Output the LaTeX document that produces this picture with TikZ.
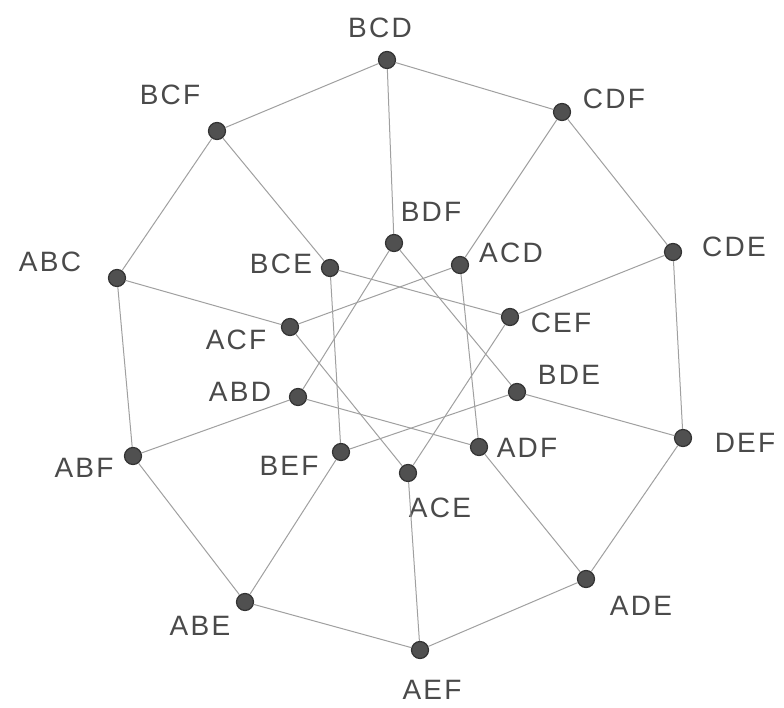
\documentclass[tikz,border=0pt]{standalone}
\usepackage{fontspec}
\newfontfamily\lab[LetterSpace=8]{Liberation Sans}
\definecolor{edgec}{HTML}{A0A0A0}
\definecolor{vfill}{HTML}{505050}
\definecolor{vdraw}{HTML}{333333}
\definecolor{txt}{HTML}{4A4A4A}
\begin{document}
\begin{tikzpicture}[x=1pt,y=-1pt,
  vert/.style={circle,fill=vfill,draw=vdraw,line width=1.2pt,minimum size=17pt,inner sep=0pt},
  lbl/.style={font=\lab\fontsize{28}{28}\selectfont,text=txt,inner sep=0pt},
  edge/.style={draw=edgec,line width=1pt}]
\useasboundingbox (0,0) rectangle (784,708);
\fill[white] (0,0) rectangle (784,708);
% vertices
\node[vert] (BCD) at (387,60) {};
\node[vert] (CDF) at (562,112) {};
\node[vert] (CDE) at (673,252) {};
\node[vert] (DEF) at (683,438) {};
\node[vert] (ADE) at (586,579) {};
\node[vert] (AEF) at (420,650) {};
\node[vert] (ABE) at (245,602) {};
\node[vert] (ABF) at (133,456) {};
\node[vert] (ABC) at (117,278) {};
\node[vert] (BCF) at (217,131) {};
\node[vert] (BDF) at (394,243) {};
\node[vert] (ACD) at (460,265) {};
\node[vert] (BCE) at (330,268) {};
\node[vert] (CEF) at (510,317) {};
\node[vert] (ACF) at (290,327) {};
\node[vert] (ABD) at (298,397) {};
\node[vert] (BDE) at (517,392) {};
\node[vert] (ADF) at (479,447) {};
\node[vert] (BEF) at (341,452) {};
\node[vert] (ACE) at (408,473) {};
% labels
\node[lbl] (lBCD) at (380,28) {BCD};
\node[lbl] (lCDF) at (614,99) {CDF};
\node[lbl] (lCDE) at (734,247) {CDE};
\node[lbl] (lDEF) at (745,443) {DEF};
\node[lbl] (lADE) at (641,606) {ADE};
\node[lbl] (lAEF) at (432,690) {AEF};
\node[lbl] (lABE) at (200,626) {ABE};
\node[lbl] (lABF) at (84,468) {ABF};
\node[lbl] (lABC) at (50,262) {ABC};
\node[lbl] (lBCF) at (170,95) {BCF};
\node[lbl] (lBDF) at (431,212) {BDF};
\node[lbl] (lACD) at (511,253) {ACD};
\node[lbl] (lBCE) at (281,264) {BCE};
\node[lbl] (lCEF) at (561,323) {CEF};
\node[lbl] (lACF) at (236,340) {ACF};
\node[lbl] (lABD) at (240,392) {ABD};
\node[lbl] (lBDE) at (569,375) {BDE};
\node[lbl] (lADF) at (527,448) {ADF};
\node[lbl] (lBEF) at (289,466) {BEF};
\node[lbl] (lACE) at (440,508) {ACE};
% edges
\foreach \a/\b in {BCD/CDF,CDF/CDE,CDE/DEF,DEF/ADE,ADE/AEF,AEF/ABE,ABE/ABF,ABF/ABC,ABC/BCF,BCF/BCD,
  BCD/BDF,CDF/ACD,CDE/CEF,DEF/BDE,ADE/ADF,AEF/ACE,ABE/BEF,ABF/ABD,ABC/ACF,BCF/BCE,
  BDF/ABD,BDF/BDE,ACD/ACF,ACD/ADF,BCE/BEF,BCE/CEF,CEF/ACE,ACF/ACE,BDE/BEF,ABD/ADF}
  \draw[edge] (\a) -- (\b);
\end{tikzpicture}
\end{document}
